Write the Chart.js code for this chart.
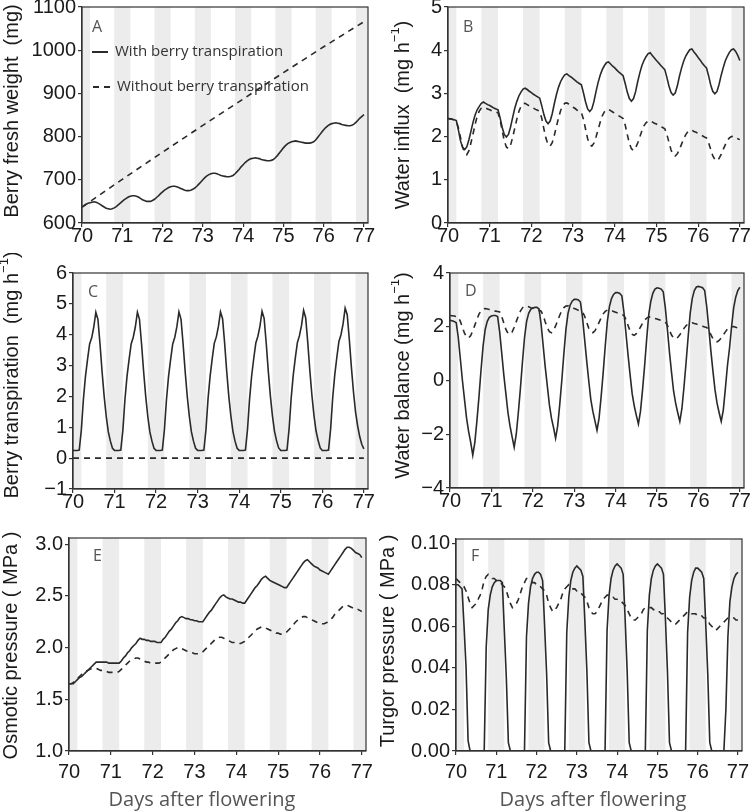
<!DOCTYPE html>
<html lang="en">
<head>
<meta charset="utf-8">
<title>Berry water relations, days 70-77</title>
<script src="https://cdn.jsdelivr.net/npm/chart.js@4.4.1/dist/chart.umd.min.js"></script>
<style>
  html, body { margin: 0; padding: 0; background: #ffffff; }
  body { position: relative; width: 752px; height: 812px; overflow: hidden; }
  canvas { position: absolute; }
</style>
</head>
<body>
<canvas id="panelA"></canvas>
<canvas id="panelB"></canvas>
<canvas id="panelC"></canvas>
<canvas id="panelD"></canvas>
<canvas id="panelE"></canvas>
<canvas id="panelF"></canvas>
<script>
// Sample times (days after flowering), every 0.05 day from 70 to 77
const days = [];
for (let i = 0; i <= 140; i++) days.push(Math.round((70 + i * 0.05) * 100) / 100);

const dayTicks = [70, 71, 72, 73, 74, 75, 76, 77];
const seriesNames = ['With berry transpiration', 'Without berry transpiration'];

// Night periods (grey bands)
const nights = [[69.8, 70.2], [70.8, 71.2], [71.8, 72.2], [72.8, 73.2], [73.8, 74.2], [74.8, 75.2], [75.8, 76.2], [76.8, 77.2]];

// A - Berry fresh weight (mg)
const weightWith = [
  637, 640, 643, 646, 647, 648, 649, 648, 646, 643, 640, 637, 634, 633, 632, 633, 635, 638, 642, 646,
  650, 654, 657, 660, 662, 663, 663, 662, 660, 657, 654, 652, 650, 650, 650, 652, 655, 659, 663, 668,
  672, 676, 679, 682, 684, 685, 685, 684, 682, 680, 678, 676, 675, 675, 676, 678, 681, 685, 690, 695,
  700, 705, 709, 712, 714, 715, 715, 714, 712, 710, 709, 708, 707, 707, 708, 710, 714, 719, 724, 730,
  735, 740, 744, 747, 749, 750, 751, 750, 749, 747, 746, 745, 744, 744, 745, 747, 751, 756, 762, 768,
  774, 779, 783, 786, 788, 789, 790, 789, 788, 787, 786, 785, 785, 785, 786, 788, 792, 798, 804, 810,
  816, 821, 825, 828, 830, 831, 832, 831, 830, 828, 827, 826, 825, 825, 826, 829, 833, 838, 843, 847,
  851
];
const weightWithout = [637, 701, 764, 826, 887, 948, 1008, 1066]; // at dayTicks
const weightTicks = [600, 700, 800, 900, 1000, 1100];

// B - Water influx (mg h-1)
const influxWith = [
  2.42, 2.41, 2.40, 2.39, 2.37, 2.15, 1.90, 1.75, 1.70, 1.76, 1.92, 2.12, 2.33, 2.50, 2.62, 2.70, 2.77, 2.80, 2.77, 2.74,
  2.72, 2.69, 2.66, 2.64, 2.62, 2.43, 2.21, 2.05, 1.99, 2.05, 2.22, 2.44, 2.65, 2.81, 2.94, 3.03, 3.10, 3.12, 3.09, 3.05,
  3.02, 2.98, 2.95, 2.92, 2.89, 2.71, 2.51, 2.36, 2.30, 2.36, 2.53, 2.76, 2.97, 3.14, 3.27, 3.36, 3.43, 3.45, 3.41, 3.38,
  3.34, 3.30, 3.26, 3.23, 3.20, 3.01, 2.80, 2.64, 2.58, 2.64, 2.81, 3.04, 3.25, 3.42, 3.55, 3.64, 3.71, 3.73, 3.68, 3.63,
  3.59, 3.54, 3.49, 3.45, 3.41, 3.23, 3.03, 2.88, 2.82, 2.88, 3.04, 3.27, 3.47, 3.64, 3.76, 3.85, 3.92, 3.94, 3.88, 3.82,
  3.76, 3.71, 3.65, 3.60, 3.55, 3.37, 3.17, 3.02, 2.96, 3.01, 3.17, 3.39, 3.58, 3.74, 3.86, 3.94, 4.01, 4.03, 3.96, 3.90,
  3.83, 3.77, 3.70, 3.64, 3.59, 3.41, 3.20, 3.05, 2.99, 3.04, 3.20, 3.41, 3.59, 3.75, 3.86, 3.95, 4.01, 4.03, 3.97, 3.88,
  3.76
];
const influxWithout = [
  2.42, 2.41, 2.40, 2.38, 2.36, 2.20, 1.98, 1.76, 1.62, 1.58, 1.67, 1.85, 2.06, 2.28, 2.47, 2.59, 2.66, 2.68, 2.66, 2.64,
  2.62, 2.60, 2.58, 2.57, 2.55, 2.38, 2.14, 1.90, 1.76, 1.72, 1.80, 1.98, 2.19, 2.40, 2.58, 2.70, 2.76, 2.77, 2.74, 2.71,
  2.69, 2.66, 2.63, 2.61, 2.58, 2.42, 2.18, 1.96, 1.82, 1.78, 1.86, 2.03, 2.23, 2.43, 2.60, 2.71, 2.77, 2.78, 2.75, 2.71,
  2.68, 2.65, 2.61, 2.58, 2.55, 2.40, 2.17, 1.95, 1.82, 1.78, 1.85, 1.99, 2.16, 2.33, 2.48, 2.57, 2.62, 2.63, 2.60, 2.57,
  2.54, 2.51, 2.48, 2.45, 2.42, 2.27, 2.05, 1.84, 1.72, 1.68, 1.74, 1.85, 1.99, 2.13, 2.25, 2.32, 2.36, 2.37, 2.34, 2.31,
  2.29, 2.26, 2.23, 2.21, 2.18, 2.05, 1.87, 1.69, 1.58, 1.55, 1.60, 1.70, 1.82, 1.94, 2.04, 2.11, 2.14, 2.15, 2.12, 2.10,
  2.07, 2.04, 2.02, 1.99, 1.97, 1.86, 1.71, 1.56, 1.47, 1.44, 1.49, 1.58, 1.70, 1.81, 1.91, 1.97, 2.00, 2.01, 1.98, 1.95,
  1.93
];
const influxTicks = [0, 1, 2, 3, 4, 5];

// C - Berry transpiration (mg h-1)
const transpWith = [
  0.25, 0.25, 0.25, 0.26, 0.90, 1.90, 2.65, 3.20, 3.70, 3.90, 4.25, 4.73, 4.50, 3.70, 2.80, 2.00, 1.35, 0.85, 0.55, 0.32,
  0.25, 0.25, 0.25, 0.26, 0.90, 1.90, 2.65, 3.20, 3.70, 3.92, 4.25, 4.73, 4.50, 3.70, 2.80, 2.00, 1.35, 0.85, 0.55, 0.32,
  0.25, 0.25, 0.25, 0.26, 0.92, 1.90, 2.66, 3.20, 3.70, 3.92, 4.26, 4.74, 4.50, 3.70, 2.80, 2.00, 1.35, 0.85, 0.55, 0.32,
  0.25, 0.25, 0.25, 0.26, 0.92, 1.92, 2.66, 3.22, 3.72, 3.93, 4.27, 4.74, 4.52, 3.72, 2.80, 2.00, 1.36, 0.86, 0.55, 0.32,
  0.25, 0.25, 0.25, 0.26, 0.93, 1.92, 2.67, 3.23, 3.73, 3.95, 4.28, 4.76, 4.53, 3.73, 2.82, 2.02, 1.37, 0.87, 0.56, 0.33,
  0.25, 0.25, 0.25, 0.26, 0.93, 1.93, 2.68, 3.24, 3.74, 3.97, 4.30, 4.79, 4.55, 3.75, 2.84, 2.04, 1.38, 0.88, 0.57, 0.33,
  0.25, 0.25, 0.25, 0.26, 0.94, 1.95, 2.70, 3.27, 3.78, 4.00, 4.35, 4.86, 4.65, 3.85, 2.95, 2.15, 1.50, 1.05, 0.70, 0.45,
  0.30
];
const transpWithoutDays = [70, 77];
const transpWithout = [0, 0];
const transpTicks = [-1, 0, 1, 2, 3, 4, 5, 6];

// D - Water balance (mg h-1)
const balanceWith = [
  2.24, 2.22, 2.20, 2.15, 1.60, 0.80, 0.00, -0.70, -1.40, -1.90, -2.30, -2.78, -2.30, -1.50, -0.60, 0.40, 1.30, 1.90, 2.20, 2.35,
  2.40, 2.42, 2.42, 2.38, 1.80, 1.00, 0.20, -0.50, -1.20, -1.70, -2.10, -2.48, -2.00, -1.20, -0.30, 0.70, 1.60, 2.20, 2.50, 2.65,
  2.70, 2.72, 2.72, 2.66, 2.10, 1.30, 0.50, -0.20, -0.90, -1.40, -1.75, -2.15, -1.70, -0.90, 0.00, 1.00, 1.90, 2.50, 2.80, 2.95,
  3.02, 3.02, 3.00, 2.92, 2.35, 1.55, 0.75, 0.00, -0.70, -1.15, -1.50, -1.85, -1.40, -0.60, 0.30, 1.30, 2.20, 2.75, 3.05, 3.20,
  3.27, 3.27, 3.24, 3.15, 2.55, 1.75, 0.95, 0.20, -0.50, -0.95, -1.30, -1.62, -1.15, -0.35, 0.55, 1.55, 2.45, 2.95, 3.25, 3.40,
  3.45, 3.43, 3.40, 3.30, 2.70, 1.90, 1.05, 0.30, -0.40, -0.85, -1.20, -1.52, -1.05, -0.25, 0.65, 1.60, 2.50, 3.05, 3.35, 3.48,
  3.50, 3.48, 3.45, 3.35, 2.75, 1.95, 1.10, 0.35, -0.35, -0.85, -1.20, -1.52, -1.10, -0.30, 0.55, 1.20, 2.00, 2.70, 3.10, 3.35,
  3.47
];
// without transpiration the balance equals the influx curve
const balanceWithout = influxWithout;
const balanceTicks = [-4, -2, 0, 2, 4];

// E - Osmotic pressure (MPa)
const osmoticWith = [
  1.65, 1.65, 1.65, 1.67, 1.69, 1.71, 1.72, 1.74, 1.76, 1.78, 1.80, 1.82, 1.84, 1.86, 1.86, 1.86, 1.86, 1.86, 1.86, 1.85,
  1.85, 1.85, 1.85, 1.85, 1.85, 1.87, 1.90, 1.92, 1.95, 1.97, 2.00, 2.02, 2.04, 2.07, 2.09, 2.08, 2.08, 2.07, 2.07, 2.06,
  2.06, 2.06, 2.05, 2.05, 2.05, 2.08, 2.10, 2.13, 2.16, 2.18, 2.21, 2.24, 2.26, 2.29, 2.30, 2.29, 2.28, 2.28, 2.27, 2.27,
  2.26, 2.26, 2.25, 2.25, 2.25, 2.28, 2.31, 2.34, 2.36, 2.39, 2.42, 2.45, 2.48, 2.50, 2.51, 2.49, 2.48, 2.47, 2.47, 2.46,
  2.45, 2.44, 2.44, 2.43, 2.43, 2.46, 2.49, 2.52, 2.55, 2.58, 2.60, 2.63, 2.66, 2.68, 2.69, 2.67, 2.65, 2.64, 2.63, 2.62,
  2.61, 2.60, 2.59, 2.58, 2.58, 2.61, 2.64, 2.67, 2.70, 2.73, 2.76, 2.79, 2.82, 2.84, 2.85, 2.83, 2.81, 2.79, 2.78, 2.77,
  2.75, 2.74, 2.73, 2.72, 2.71, 2.74, 2.77, 2.80, 2.83, 2.86, 2.89, 2.92, 2.95, 2.97, 2.97, 2.96, 2.94, 2.92, 2.91, 2.90,
  2.87
];
const osmoticWithout = [
  1.65, 1.65, 1.66, 1.68, 1.70, 1.72, 1.74, 1.76, 1.77, 1.78, 1.79, 1.80, 1.80, 1.80, 1.79, 1.78, 1.78, 1.77, 1.77, 1.76,
  1.76, 1.76, 1.76, 1.76, 1.77, 1.79, 1.81, 1.83, 1.85, 1.87, 1.88, 1.89, 1.90, 1.90, 1.89, 1.88, 1.87, 1.86, 1.86, 1.85,
  1.85, 1.85, 1.85, 1.85, 1.86, 1.88, 1.90, 1.92, 1.94, 1.96, 1.98, 1.99, 2.00, 2.00, 1.99, 1.98, 1.97, 1.96, 1.95, 1.95,
  1.94, 1.94, 1.94, 1.95, 1.96, 1.98, 2.00, 2.02, 2.04, 2.06, 2.08, 2.09, 2.10, 2.10, 2.09, 2.08, 2.07, 2.06, 2.05, 2.05,
  2.04, 2.04, 2.04, 2.05, 2.06, 2.08, 2.10, 2.12, 2.14, 2.16, 2.18, 2.19, 2.20, 2.20, 2.19, 2.18, 2.17, 2.16, 2.15, 2.14,
  2.14, 2.13, 2.13, 2.14, 2.15, 2.17, 2.19, 2.21, 2.24, 2.26, 2.28, 2.29, 2.30, 2.30, 2.29, 2.28, 2.27, 2.26, 2.25, 2.24,
  2.24, 2.23, 2.23, 2.24, 2.25, 2.27, 2.29, 2.32, 2.34, 2.36, 2.38, 2.40, 2.41, 2.41, 2.40, 2.39, 2.38, 2.37, 2.37, 2.36,
  2.35
];
const osmoticTicks = [1.0, 1.5, 2.0, 2.5, 3.0];

// F - Turgor pressure (MPa)
const turgorWith = [
  0.080, 0.080, 0.079, 0.078, 0.060, 0.040, 0.005, 0, 0, 0, 0, 0, 0, 0, 0, 0.050, 0.068, 0.075, 0.079, 0.081,
  0.082, 0.082, 0.082, 0.081, 0.058, 0.035, 0.004, 0, 0, 0, 0, 0, 0, 0, 0, 0.055, 0.071, 0.079, 0.083, 0.085,
  0.086, 0.086, 0.085, 0.082, 0.060, 0.037, 0.004, 0, 0, 0, 0, 0, 0, 0, 0, 0.057, 0.074, 0.082, 0.086, 0.088,
  0.089, 0.088, 0.087, 0.084, 0.062, 0.038, 0.004, 0, 0, 0, 0, 0, 0, 0, 0, 0.058, 0.075, 0.083, 0.087, 0.089,
  0.090, 0.089, 0.088, 0.085, 0.063, 0.038, 0.004, 0, 0, 0, 0, 0, 0, 0, 0, 0.058, 0.075, 0.083, 0.087, 0.089,
  0.090, 0.089, 0.088, 0.085, 0.063, 0.038, 0.004, 0, 0, 0, 0, 0, 0, 0, 0, 0.057, 0.074, 0.082, 0.086, 0.088,
  0.088, 0.087, 0.086, 0.083, 0.061, 0.037, 0.004, 0, 0, 0, 0, 0, 0, 0, 0.020, 0.055, 0.072, 0.079, 0.083, 0.085,
  0.086
];
const turgorWithout = [
  0.083, 0.082, 0.081, 0.080, 0.079, 0.077, 0.074, 0.071, 0.069, 0.070, 0.071, 0.073, 0.075, 0.078, 0.082, 0.084, 0.085, 0.084, 0.083, 0.083,
  0.082, 0.082, 0.081, 0.080, 0.079, 0.077, 0.074, 0.071, 0.069, 0.070, 0.071, 0.073, 0.076, 0.079, 0.081, 0.083, 0.083, 0.082, 0.081, 0.081,
  0.080, 0.080, 0.079, 0.078, 0.077, 0.075, 0.071, 0.069, 0.067, 0.068, 0.069, 0.071, 0.073, 0.076, 0.078, 0.079, 0.080, 0.079, 0.078, 0.078,
  0.077, 0.077, 0.076, 0.075, 0.074, 0.072, 0.069, 0.067, 0.066, 0.066, 0.067, 0.069, 0.071, 0.073, 0.074, 0.075, 0.075, 0.074, 0.074, 0.073,
  0.073, 0.072, 0.072, 0.071, 0.070, 0.068, 0.066, 0.064, 0.063, 0.063, 0.064, 0.065, 0.066, 0.068, 0.069, 0.069, 0.069, 0.069, 0.068, 0.068,
  0.067, 0.067, 0.066, 0.066, 0.065, 0.064, 0.063, 0.062, 0.061, 0.061, 0.062, 0.063, 0.064, 0.065, 0.066, 0.067, 0.067, 0.066, 0.066, 0.066,
  0.065, 0.065, 0.065, 0.064, 0.064, 0.063, 0.061, 0.060, 0.059, 0.058, 0.059, 0.060, 0.061, 0.062, 0.063, 0.064, 0.064, 0.064, 0.064, 0.063,
  0.063
];
const turgorTicks = [0, 0.02, 0.04, 0.06, 0.08, 0.10];

// Global look
Chart.defaults.font.family = '"Liberation Sans", Arial, sans-serif';
Chart.defaults.font.size = 20;
Chart.defaults.color = '#1a1a1a';

const LABEL_FONT = '"Open Sans", "Noto Sans", sans-serif';
const AXIS_COLOR = '#333333';
const PAD_T = 20;
const PAD_R = 22;

// Draw rich text (supports superscript parts) centred on 0,0
function drawParts(ctx, parts, size) {
  const small = Math.round(size * 0.65);
  let total = 0;
  parts.forEach(p => {
    ctx.font = (p.sup ? small : size) + 'px "Liberation Sans", Arial, sans-serif';
    p.w = ctx.measureText(p.t).width;
    total += p.w;
  });
  let x = -total / 2;
  parts.forEach(p => {
    ctx.font = (p.sup ? small : size) + 'px "Liberation Sans", Arial, sans-serif';
    ctx.fillText(p.t, x, p.sup ? -size * 0.38 : 0);
    x += p.w;
  });
}

const decor = {
  id: 'decor',
  beforeDraw(chart) {
    const {ctx, chartArea: a, scales: {x}} = chart;
    ctx.save();
    ctx.fillStyle = '#ececec';
    nights.forEach(([s, e]) => {
      const x0 = Math.max(x.getPixelForValue(s), a.left);
      const x1 = Math.min(x.getPixelForValue(e), a.right);
      if (x1 > x0) ctx.fillRect(x0, a.top, x1 - x0, a.bottom - a.top);
    });
    ctx.restore();
  },
  afterDraw(chart, args, o) {
    const {ctx, chartArea: a} = chart;
    ctx.save();
    // frame
    ctx.strokeStyle = AXIS_COLOR;
    ctx.lineWidth = 1.2;
    ctx.strokeRect(a.left, a.top, a.right - a.left, a.bottom - a.top);

    // y title
    ctx.fillStyle = '#1a1a1a';
    ctx.textAlign = 'left';
    ctx.textBaseline = 'middle';
    ctx.save();
    ctx.translate(12, (a.top + a.bottom) / 2 + o.titleDy);
    ctx.rotate(-Math.PI / 2);
    drawParts(ctx, o.yTitle, 20);
    ctx.restore();

    // panel letter
    ctx.fillStyle = '#555555';
    ctx.font = '16px ' + LABEL_FONT;
    ctx.textAlign = 'left';
    ctx.fillText(o.letter, a.left + o.letterDx, a.top + o.letterDy);

    // x title
    if (o.xTitle) {
      ctx.font = '20px ' + LABEL_FONT;
      ctx.textAlign = 'center';
      ctx.fillText(o.xTitle, o.xTitleX, o.xTitleY);
    }

    // legend
    if (o.legend) {
      ctx.strokeStyle = '#2a2a2a';
      ctx.lineWidth = 2;
      ctx.beginPath();
      ctx.moveTo(a.left + 10, a.top + 45);
      ctx.lineTo(a.left + 26, a.top + 45);
      ctx.stroke();
      ctx.setLineDash([6, 5]);
      ctx.beginPath();
      ctx.moveTo(a.left + 11, a.top + 80);
      ctx.lineTo(a.left + 28, a.top + 80);
      ctx.stroke();
      ctx.setLineDash([]);
      ctx.fillStyle = '#333333';
      ctx.font = '15px ' + LABEL_FONT;
      ctx.textAlign = 'left';
      ctx.fillText(seriesNames[0], a.left + 33, a.top + 45);
      ctx.fillText(seriesNames[1], a.left + 35, a.top + 80);
    }
    ctx.restore();
  }
};

function series(xs, ys, dashed) {
  return {
    data: ys.map((y, i) => ({x: xs[i], y: y})),
    borderColor: '#2a2a2a',
    borderWidth: 1.6,
    borderDash: dashed ? [6, 5] : [],
    pointRadius: 0,
    tension: 0,
    fill: false
  };
}

function makePanel(p) {
  const canvas = document.getElementById(p.id);
  const yw = p.plot.l - p.left;
  const xh = p.xTitle ? 812 - p.plot.b : 30;
  const top = p.plot.t - PAD_T;
  canvas.width = yw + (p.plot.r - p.plot.l) + PAD_R;
  canvas.height = PAD_T + (p.plot.b - p.plot.t) + xh;
  canvas.style.left = p.left + 'px';
  canvas.style.top = top + 'px';

  const grid = {drawOnChartArea: false, drawTicks: true, tickLength: 4, color: AXIS_COLOR, lineWidth: 1.2};
  const border = {display: true, color: AXIS_COLOR, width: 1.2};

  new Chart(canvas, {
    type: 'line',
    data: {datasets: p.datasets},
    options: {
      responsive: false,
      animation: false,
      layout: {padding: {left: 0, top: PAD_T, right: PAD_R, bottom: 0}},
      plugins: {
        legend: {display: false},
        tooltip: {enabled: false},
        decor: {
          yTitle: p.yTitle,
          titleDy: p.titleDy,
          letter: p.letter,
          letterDx: p.letterDx,
          letterDy: p.letterDy,
          legend: !!p.legend,
          xTitle: p.xTitle,
          xTitleX: p.xTitleCx - p.left,
          xTitleY: 800 - top
        }
      },
      scales: {
        x: {
          type: 'linear',
          min: 70,
          max: 77.1,
          afterBuildTicks: s => { s.ticks = dayTicks.map(v => ({value: v})); },
          afterFit: s => { s.height = xh; },
          ticks: {autoSkip: false, maxRotation: 0, padding: p.xPad},
          grid: grid,
          border: border
        },
        y: {
          type: 'linear',
          min: p.yMin,
          max: p.yMax,
          afterBuildTicks: s => { s.ticks = p.yTicks.map(v => ({value: v})); },
          afterFit: s => { s.width = yw; },
          ticks: {padding: 2, callback: v => p.fmt(v)},
          grid: grid,
          border: border
        }
      }
    },
    plugins: [decor]
  });
}

const minus = v => (v < 0 ? '\u2212' + Math.abs(v) : String(v));

makePanel({
  id: 'panelA', left: 0, plot: {l: 82, t: 7, r: 368, b: 223}, xPad: -3,
  yMin: 600, yMax: 1100, yTicks: weightTicks, fmt: v => String(v),
  yTitle: [{t: 'Berry fresh weight  (mg)'}], titleDy: -4,
  letter: 'A', letterDx: 10, letterDy: 20, legend: true,
  datasets: [series(days, weightWith, false), series(dayTicks, weightWithout, true)]
});

makePanel({
  id: 'panelB', left: 391, plot: {l: 448, t: 7, r: 744, b: 223}, xPad: -3,
  yMin: 0, yMax: 5, yTicks: influxTicks, fmt: v => String(v),
  yTitle: [{t: 'Water influx  (mg h'}, {t: '\u22121', sup: true}, {t: ')'}], titleDy: 0,
  letter: 'B', letterDx: 15, letterDy: 20,
  datasets: [series(days, influxWith, false), series(days, influxWithout, true)]
});

makePanel({
  id: 'panelC', left: 0, plot: {l: 73, t: 273, r: 368, b: 489}, xPad: -3,
  yMin: -1, yMax: 6, yTicks: transpTicks, fmt: minus,
  yTitle: [{t: 'Berry transpiration  (mg h'}, {t: '\u22121', sup: true}, {t: ')'}], titleDy: -6,
  letter: 'C', letterDx: 15, letterDy: 19,
  datasets: [series(days, transpWith, false), series(transpWithoutDays, transpWithout, true)]
});

makePanel({
  id: 'panelD', left: 391, plot: {l: 450, t: 273, r: 744, b: 488}, xPad: -3,
  yMin: -4, yMax: 4, yTicks: balanceTicks, fmt: minus,
  yTitle: [{t: 'Water balance (mg h'}, {t: '\u22121', sup: true}, {t: ')'}], titleDy: -5,
  letter: 'D', letterDx: 15, letterDy: 18,
  datasets: [series(days, balanceWith, false), series(days, balanceWithout, true)]
});

makePanel({
  id: 'panelE', left: -1, plot: {l: 69, t: 538, r: 366, b: 751}, xPad: 5,
  yMin: 1.0, yMax: 3.06, yTicks: osmoticTicks, fmt: v => v.toFixed(1),
  yTitle: [{t: 'Osmotic pressure ( MPa )'}], titleDy: 1,
  letter: 'E', letterDx: 24, letterDy: 18,
  xTitle: 'Days after flowering', xTitleCx: 202,
  datasets: [series(days, osmoticWith, false), series(days, osmoticWithout, true)]
});

makePanel({
  id: 'panelF', left: 376, plot: {l: 456, t: 539, r: 742, b: 751}, xPad: 5,
  yMin: 0, yMax: 0.102, yTicks: turgorTicks, fmt: v => v.toFixed(2),
  yTitle: [{t: 'Turgor pressure ( MPa )'}], titleDy: -4,
  letter: 'F', letterDx: 15, letterDy: 17,
  xTitle: 'Days after flowering', xTitleCx: 593,
  datasets: [series(days, turgorWith, false), series(days, turgorWithout, true)]
});
</script>
</body>
</html>
